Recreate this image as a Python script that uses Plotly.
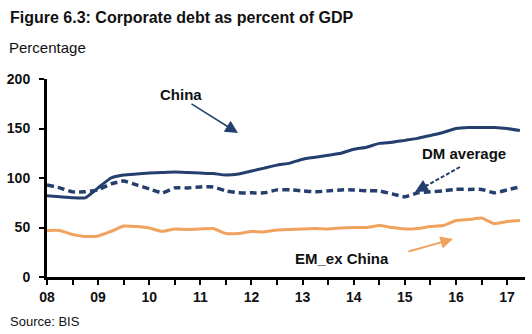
import plotly.graph_objects as go

# Quarterly observations, 2008Q1 - 2017Q2
quarters = [2008 + 0.25 * i for i in range(38)]

china = [82, 81, 80, 80, 90, 100, 103, 104, 105, 105.5, 106, 105.5,
         105, 104.5, 103, 104, 107, 110, 113, 115, 119, 121, 123, 125,
         129, 131, 135, 136, 138, 140, 143, 146, 150, 151, 151, 151,
         150, 148]

dm_average = [93, 90, 86, 86, 88, 94, 97, 93, 89, 85, 90, 90,
              91, 91, 87, 85, 85, 85, 88, 88, 87, 86, 87, 88,
              88, 87, 87, 84, 81, 85, 86, 87, 88.5, 88.5, 88.5, 85,
              88, 91]

em_ex_china = [47, 47, 43, 41, 41.5, 46, 51.5, 51, 49.5, 46, 48.5, 48,
               48.5, 49, 44, 44, 46, 45.5, 47.5, 48, 48.5, 49, 48.5, 49.5,
               50, 50, 52, 50, 48.5, 49, 51, 52, 57, 58, 59.5, 54,
               56, 57]

year_ticks = [2008 + 0.5 * i for i in range(19)]
year_labels = [f"{(8 + i // 2):02d}" if i % 2 == 0 else "" for i in range(19)]
y_ticks = [0, 50, 100, 150, 200]

NAVY = "#243f6e"
ORANGE = "#f0a35e"
FONT = "Liberation Sans, Arial, sans-serif"

# plot-area geometry in pixels
W, H = 532, 334
L, R, T, B = 47, 7, 79, 57
PH = H - T - B


def py(p):
    return (H - B - p) / PH


def px(p):
    return (p - L) / (W - L - R)


fig = go.Figure()
fig.add_trace(go.Scatter(x=quarters, y=china, mode="lines", name="China",
                         line=dict(color=NAVY, width=3, shape="spline", smoothing=0.4)))
fig.add_trace(go.Scatter(x=quarters, y=dm_average, mode="lines", name="DM average",
                         line=dict(color=NAVY, width=3.5, dash="7px,4px",
                                   shape="spline", smoothing=0.4)))
fig.add_trace(go.Scatter(x=quarters, y=em_ex_china, mode="lines", name="EM_ex China",
                         line=dict(color=ORANGE, width=3, shape="spline", smoothing=0.4)))

ann = []


def label(text, x, y, size, anchor="center"):
    ann.append(dict(text=text, xref="paper", yref="paper", x=px(x), y=py(y),
                    xanchor=anchor, yanchor="middle", showarrow=False,
                    font=dict(family=FONT, size=size, color="#111")))


# headings
label("<b>Figure 6.3: Corporate debt as percent of GDP</b>", 8, 18, 16, "left")
label("Percentage", 7, 47, 15, "left")
label("Source: BIS", 8, 321, 13, "left")

# series labels
label("<b>China</b>", 181, 94, 15)
label("<b>DM average</b>", 464, 153, 15)
label("<b>EM_ex China</b>", 342, 258, 15)


def pointer(x, y, ax, ay, color, width, size):
    ann.append(dict(text="", xref="paper", yref="paper", x=px(x), y=py(y),
                    ax=ax, ay=ay, showarrow=True, arrowhead=2, arrowsize=size,
                    arrowwidth=width, arrowcolor=color))


pointer(238, 133, -48, -30, NAVY, 1.5, 1.7)
pointer(415, 192, 14, -8, NAVY, 2, 1.3)
pointer(453, 239, -46, 13, ORANGE, 2, 1.25)

shapes = [dict(type="line", xref="paper", yref="paper",
               x0=px(460), y0=py(167), x1=px(426), y1=py(186),
               line=dict(color=NAVY, width=2, dash="4px,2px"))]

fig.update_layout(
    width=W, height=H,
    margin=dict(l=L, r=R, t=T, b=B),
    paper_bgcolor="white", plot_bgcolor="white",
    showlegend=False,
    font=dict(family=FONT, color="#111"),
    annotations=ann, shapes=shapes,
    xaxis=dict(range=[2008, 2017.35], tickmode="array", tickvals=year_ticks,
               ticktext=year_labels, showgrid=False, zeroline=False,
               showline=True, linecolor="black", linewidth=3,
               ticks="outside", ticklen=5, tickwidth=2, tickcolor="black",
               tickfont=dict(family=FONT, size=14, color="#111", weight="bold")),
    yaxis=dict(range=[0, 200], tickmode="array", tickvals=y_ticks,
               showgrid=False, zeroline=False,
               showline=True, linecolor="black", linewidth=3,
               ticks="outside", ticklen=5, tickwidth=2, tickcolor="black",
               ticklabelstandoff=6,
               tickfont=dict(family=FONT, size=14, color="#111", weight="bold")),
)

fig.write_html("out.html")
